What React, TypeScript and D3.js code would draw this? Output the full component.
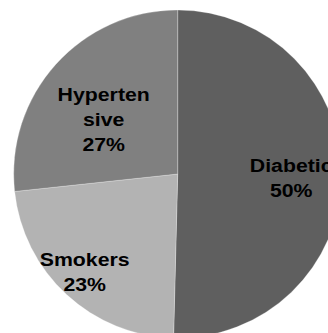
import React from 'react';
import * as d3 from 'd3';

const categories = ['Diabetic', 'Smokers', 'Hypertensive'];
const values = [50.4, 22.9, 26.7];
const labelLines = [['Diabetic'], ['Smokers'], ['Hyperten', 'sive']];
const colors = ['#5f5f5f', '#b3b3b3', '#808080'];

const width = 328;
const height = 333;
const cx = 177.7;
const cy = 174;
const radius = 164;

// label anchor (centre x, first baseline y) relative to pie centre, Excel "best fit" style
const labelPos = [
  { dx: 113.5, dy: -2.5 },
  { dx: -93, dy: 91.5 },
  { dx: -74, dy: -73.3 },
];
const lineGap = 25;

export default function App() {
  const pie = d3.pie<number>().sort(null).startAngle(0).endAngle(2 * Math.PI);
  const arcs = pie(values);
  const arc = d3.arc<d3.PieArcDatum<number>>().innerRadius(0).outerRadius(radius);

  return (
    <svg
      width={width}
      height={height}
      style={{ position: 'absolute', left: 0, top: 0, background: '#fff' }}
    >
      <g transform={`translate(${cx},${cy})`}>
        {arcs.map((a, i) => (
          <path
            key={categories[i]}
            d={arc(a) || ''}
            fill={colors[i]}
            stroke="#ffffff"
            strokeOpacity={0.25}
            strokeWidth={1}
          />
        ))}
        {arcs.map((a, i) => {
          const lines = [...labelLines[i], Math.round(values[i]) + '%'];
          const p = labelPos[i];
          return (
            <g key={'l' + i}>
              {lines.map((t, j) => (
                <text
                  key={j}
                  transform={`translate(${p.dx},${p.dy + j * lineGap}) scale(1.12,1)`}
                  textAnchor="middle"
                  fontFamily="'Liberation Sans', Arial, sans-serif"
                  fontWeight="bold"
                  fontSize={19}
                  fill="#000"
                >
                  {t}
                </text>
              ))}
            </g>
          );
        })}
      </g>
    </svg>
  );
}
